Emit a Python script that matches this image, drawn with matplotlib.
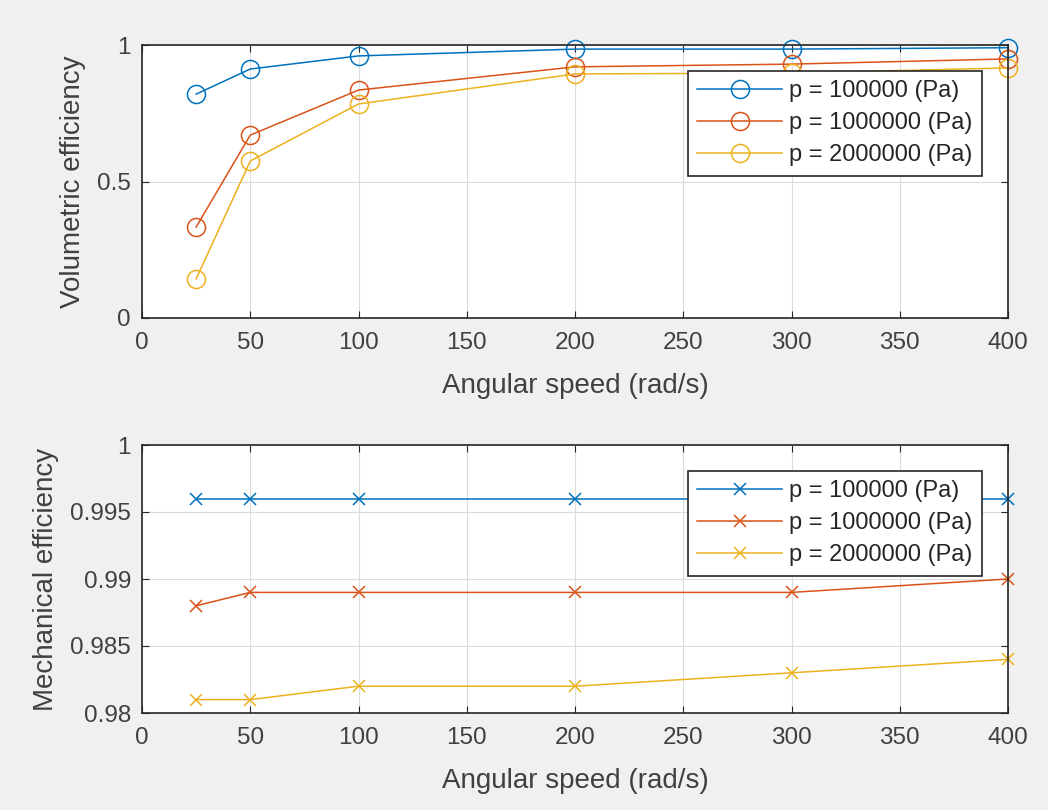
import numpy as np
import matplotlib
matplotlib.use("Agg")
import matplotlib.pyplot as plt

# Données
omega = [25, 50, 100, 200, 300, 400]
labels = ["p = 100000 (Pa)", "p = 1000000 (Pa)", "p = 2000000 (Pa)"]

eta_vol = [
    [0.82, 0.912, 0.96, 0.985, 0.985, 0.99],
    [0.333, 0.67, 0.835, 0.92, 0.93, 0.949],
    [0.143, 0.575, 0.784, 0.894, 0.897, 0.916],
]
eta_mec = [
    [0.996, 0.996, 0.996, 0.996, 0.996, 0.996],
    [0.988, 0.989, 0.989, 0.989, 0.989, 0.990],
    [0.981, 0.981, 0.982, 0.982, 0.983, 0.984],
]

couleurs = ["#0072BD", "#D95319", "#EDB120"]
gris = "#404040"

plt.rcParams["font.family"] = ["Liberation Sans", "DejaVu Sans"]

fig = plt.figure(figsize=(10.48, 8.10), dpi=100, facecolor="#f0f0f0")
W, H = 1048, 810
ax1 = fig.add_axes([142 / W, 1 - 318 / H, 866 / W, 273 / H])
ax2 = fig.add_axes([142 / W, 1 - 713 / H, 866 / W, 268 / H])


def style(ax):
    ax.set_facecolor("white")
    ax.grid(True, color="#dcdcdc", linewidth=0.8)
    ax.set_axisbelow(True)
    for s in ax.spines.values():
        s.set_color("#262626")
        s.set_linewidth(1.2)
    ax.tick_params(direction="in", top=True, right=True, length=5,
                   labelsize=17.5, labelcolor=gris, color="#262626")
    ax.tick_params(axis="x", pad=10)
    ax.tick_params(axis="y", pad=8)
    ax.set_xlim(0, 400)
    ax.set_xticks(np.arange(0, 401, 50))
    ax.set_xlabel("Angular speed (rad/s)", fontsize=20, color=gris, labelpad=14)


def legende(ax, y_haut):
    leg = ax.legend(loc="upper right", bbox_to_anchor=(982 / W, 1 - y_haut / H),
                    bbox_transform=fig.transFigure, fontsize=17, fancybox=False,
                    edgecolor="#262626", framealpha=1, handlelength=3.6,
                    borderpad=0.4, labelspacing=0.42, handletextpad=0.3,
                    borderaxespad=0)
    leg.get_frame().set_linewidth(1.2)
    for t in leg.get_texts():
        t.set_color("#262626")


# Rendement volumétrique
for i in range(3):
    ax1.plot(omega, eta_vol[i], "-o", color=couleurs[i], markersize=13,
             markerfacecolor="none", linewidth=1.1, markeredgewidth=1.1,
             label=labels[i], clip_on=False)
style(ax1)
ax1.set_ylim(0, 1)
ax1.set_yticks([0, 0.5, 1])
ax1.set_yticklabels(["0", "0.5", "1"])
ax1.set_ylabel("Volumetric efficiency", fontsize=20, color=gris, labelpad=8)
legende(ax1, 71)

# Rendement mécanique
for i in range(3):
    ax2.plot(omega, eta_mec[i], "-x", color=couleurs[i], markersize=9,
             linewidth=1.1, markeredgewidth=1.1, label=labels[i], clip_on=False)
style(ax2)
ax2.set_ylim(0.98, 1)
ax2.set_yticks([0.98, 0.985, 0.99, 0.995, 1])
ax2.set_yticklabels(["0.98", "0.985", "0.99", "0.995", "1"])
ax2.set_ylabel("Mechanical efficiency", fontsize=20, color=gris, labelpad=8)
legende(ax2, 471)

fig.savefig("out.png", dpi=100, facecolor=fig.get_facecolor())
